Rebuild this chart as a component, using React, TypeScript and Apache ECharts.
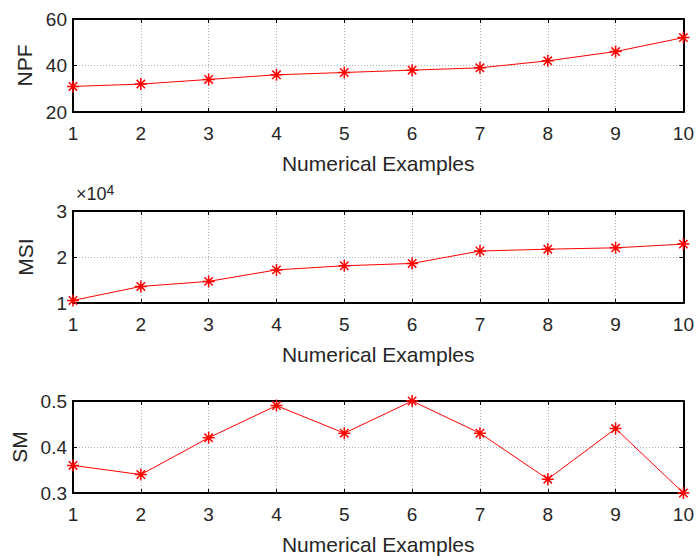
import React, { useEffect, useRef } from "react";
import * as echarts from "echarts";

const examples = [1, 2, 3, 4, 5, 6, 7, 8, 9, 10];
const npf = [31, 32, 34, 36, 37, 38, 39, 42, 46, 52];
const msi = [10560, 13600, 14700, 17200, 18100, 18600, 21300, 21700, 22000, 22800];
const sm = [0.36, 0.34, 0.42, 0.49, 0.43, 0.5, 0.43, 0.33, 0.44, 0.3];

const xTitle = "Numerical Examples";
const yTitles = ["NPF", "MSI", "SM"];

const FONT = "Liberation Sans, Arial, sans-serif";
const TXT = "#262626";
const STAR = "path://M0 -5 L0 5 M-5 0 L5 0 M-3.5 -3.5 L3.5 3.5 M-3.5 3.5 L3.5 -3.5";

export default function App() {
  const ref = useRef<HTMLDivElement>(null);
  useEffect(() => {
    if (!ref.current) return;
    const chart = echarts.init(ref.current, undefined, { renderer: "svg" });
    const grids = [
      { left: 73, right: 10, top: 19, height: 93 },
      { left: 73, right: 10, top: 211, height: 92 },
      { left: 73, right: 10, top: 401, height: 92 },
    ];
    const yRanges = [
      { min: 20, max: 60, interval: 20, fmt: (v: number) => String(v) },
      { min: 10000, max: 30000, interval: 10000, fmt: (v: number) => String(v / 10000) },
      { min: 0.3, max: 0.5, interval: 0.1, fmt: (v: number) => v.toFixed(1) },
    ];
    const datas = [npf, msi, sm];
    const xAxis: any[] = [];
    const yAxis: any[] = [];
    const series: any[] = [];
    grids.forEach((g, i) => {
      xAxis.push({
        type: "value",
        gridIndex: i,
        min: 1,
        max: 10,
        interval: 1,
        name: xTitle,
        nameLocation: "middle",
        nameGap: 41,
        nameTextStyle: { fontFamily: FONT, fontSize: 21, color: TXT },
        axisLine: { show: true, onZero: false, lineStyle: { color: "#000", width: 2 } },
        axisTick: { show: true, inside: true, length: 4, lineStyle: { color: "#000" } },
        axisLabel: { fontFamily: FONT, fontSize: 19, color: TXT, margin: 12 },
        splitLine: { show: true, lineStyle: { color: "#b0b0b0", type: [1, 2], width: 1 } },
      });
      xAxis.push({
        type: "value",
        gridIndex: i,
        position: "top",
        min: 1,
        max: 10,
        interval: 1,
        axisLine: { show: true, onZero: false, lineStyle: { color: "#000", width: 2 } },
        axisTick: { show: true, inside: true, length: 4, lineStyle: { color: "#000" } },
        axisLabel: { show: false },
        splitLine: { show: false },
      });
      const r = yRanges[i];
      yAxis.push({
        type: "value",
        gridIndex: i,
        min: r.min,
        max: r.max,
        interval: r.interval,
        name: yTitles[i],
        nameLocation: "middle",
        nameGap: 37,
        nameTextStyle: { fontFamily: FONT, fontSize: 21, color: TXT },
        axisLine: { show: true, onZero: false, lineStyle: { color: "#000", width: 2 } },
        axisTick: { show: true, inside: true, length: 4, lineStyle: { color: "#000" } },
        axisLabel: { fontFamily: FONT, fontSize: 19, color: TXT, margin: 6, formatter: r.fmt },
        splitLine: { show: true, lineStyle: { color: "#b0b0b0", type: [1, 2], width: 1 } },
      });
      yAxis.push({
        type: "value",
        gridIndex: i,
        position: "right",
        min: r.min,
        max: r.max,
        interval: r.interval,
        axisLine: { show: true, onZero: false, lineStyle: { color: "#000", width: 2 } },
        axisTick: { show: true, inside: true, length: 4, lineStyle: { color: "#000" } },
        axisLabel: { show: false },
        splitLine: { show: false },
      });
      series.push({
        type: "line",
        xAxisIndex: i * 2,
        yAxisIndex: i * 2,
        data: examples.map((x, k) => [x, datas[i][k]]),
        lineStyle: { color: "#ff0000", width: 1 },
        symbol: STAR,
        symbolSize: 12,
        showSymbol: true,
        itemStyle: { color: "none", borderColor: "#ff0000", borderWidth: 1.5 },
        z: 5,
      });
    });
    chart.setOption({
      animation: false,
      backgroundColor: "#fff",
      grid: grids,
      xAxis,
      yAxis,
      series,
      graphic: [
        {
          type: "text",
          left: 76,
          top: 183,
          style: {
            text: "×10{sup|4}",
            fontFamily: FONT,
            fontSize: 18,
            fill: TXT,
            rich: { sup: { fontSize: 14, verticalAlign: "top", padding: [0, 0, 8, 0], fontFamily: FONT, fill: TXT } },
          },
        },
      ],
    });
    return () => chart.dispose();
  }, []);
  return <div ref={ref} style={{ width: 697, height: 556, position: "absolute", left: 0, top: 0 }} />;
}
